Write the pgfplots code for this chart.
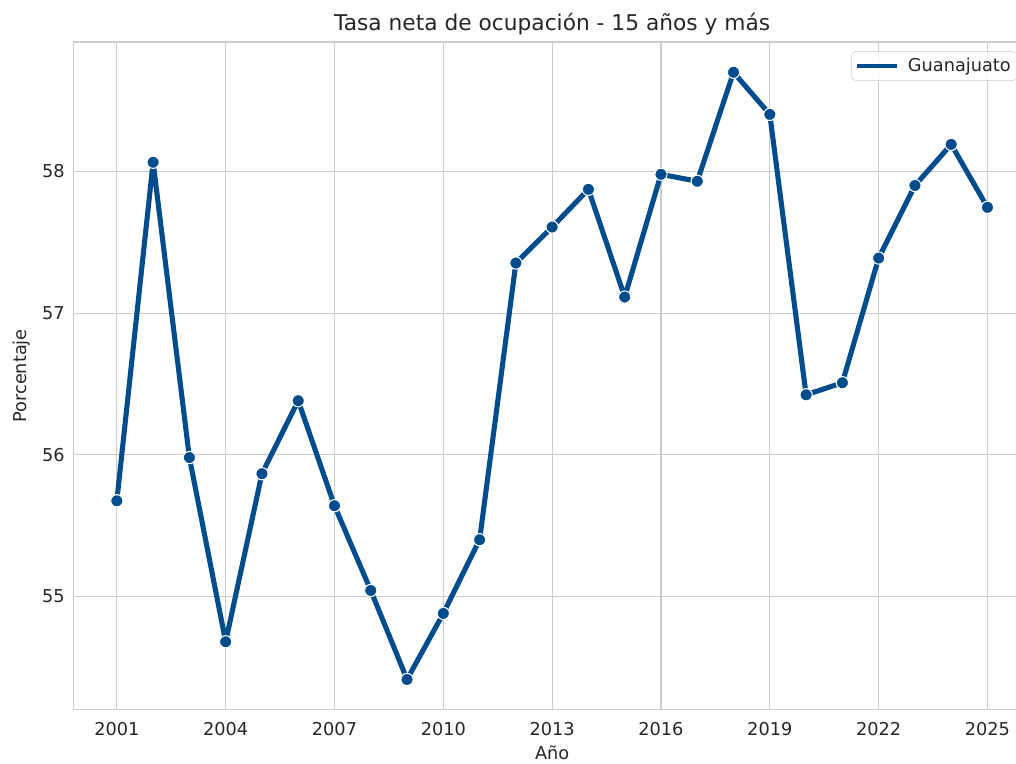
\documentclass[border=0pt]{standalone}
\usepackage{fontspec}
\setmainfont{DejaVu Sans}
\usepackage{pgfplots}
\pgfplotsset{compat=1.18}
\definecolor{line}{HTML}{004C8C}
\definecolor{gridc}{HTML}{CCCCCC}
\definecolor{txt}{HTML}{262626}
\begin{document}
\begin{tikzpicture}
\useasboundingbox (-55pt,-40.5pt) rectangle (707.25pt,532.5pt);
\clip (-55pt,-40.5pt) rectangle (707.25pt,532.5pt);
\begin{axis}[
  at={(0,0)}, anchor=south west,
  scale only axis,
  width=718.5pt, height=501pt,
  xmin=1999.8, xmax=2026.2,
  ymin=54.2, ymax=58.913,
  xtick={2001,2004,...,2025},
  ytick={55,56,57,58},
  grid=major,
  major grid style={gridc, line width=0.8pt},
  axis line style={gridc, line width=0.8pt},
  tick style={draw=none},
  /pgf/number format/1000 sep={},
  /pgf/number format/assume math mode=true,
  tick label style={font=\fontsize{13.3}{15}\selectfont, text=txt},
  xticklabel style={yshift=-6pt},
  yticklabel style={xshift=-3pt},
  xlabel={Año}, ylabel={Porcentaje},
  label style={font=\fontsize{13.3}{15}\selectfont, text=txt},
  xlabel style={yshift=-0.8pt},
  ylabel style={yshift=2pt},
  title={Tasa neta de ocupación - 15 años y más},
  title style={font=\fontsize{16.3}{18}\selectfont, text=txt, yshift=-4pt},
  legend style={font=\fontsize{13.3}{15}\selectfont, text=txt, draw=gridc, rounded corners=3pt, fill=white, fill opacity=0.8, text opacity=1, at={(1,1)}, xshift=-10pt, yshift=-7pt, anchor=north east, inner sep=3pt},
  legend cell align=left,
  legend image code/.code={\draw[#1, line width=2.6pt] (0pt,0pt) -- (30pt,0pt); \path[draw=none] (0pt,0pt) -- (36pt,0pt);},
]
\addplot[line, line width=3.8pt, line join=round, mark=*, mark size=4.6pt, mark options={fill=line, draw=white, line width=0.8pt}, forget plot] coordinates {
(2001,55.675) (2002,58.064) (2003,55.98) (2004,54.68) (2005,55.866) (2006,56.381)
(2007,55.64) (2008,55.042) (2009,54.414) (2010,54.88) (2011,55.40) (2012,57.353)
(2013,57.607) (2014,57.873) (2015,57.113) (2016,57.979) (2017,57.93) (2018,58.699)
(2019,58.402) (2020,56.423) (2021,56.508) (2022,57.388) (2023,57.90) (2024,58.19) (2025,57.746)
};
\addlegendimage{line}
\addlegendentry{Guanajuato}
\end{axis}
\end{tikzpicture}
\end{document}
